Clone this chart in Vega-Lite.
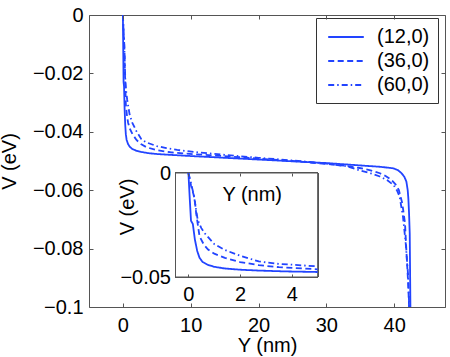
{
  "$schema": "https://vega.github.io/schema/vega-lite/v6.json",
  "width": 356,
  "height": 292,
  "autosize": {"type": "none"},
  "padding": {"left": 89, "top": 15, "right": 5, "bottom": 50},
  "datasets": {
    "curves": [
      {"s":"(12,0)","Y":0,"V":0},{"s":"(12,0)","Y":0.05,"V":-0.012},{"s":"(12,0)","Y":0.1,"V":-0.023},{"s":"(12,0)","Y":0.17,"V":-0.0245},{"s":"(12,0)","Y":0.25,"V":-0.032},{"s":"(12,0)","Y":0.34,"V":-0.0375},{"s":"(12,0)","Y":0.43,"V":-0.0408},{"s":"(12,0)","Y":0.55,"V":-0.0428},{"s":"(12,0)","Y":0.76,"V":-0.0442},{"s":"(12,0)","Y":1.0,"V":-0.0451},{"s":"(12,0)","Y":1.4,"V":-0.0459},{"s":"(12,0)","Y":2.0,"V":-0.0465},{"s":"(12,0)","Y":2.7,"V":-0.0469},{"s":"(12,0)","Y":3.7,"V":-0.0473},{"s":"(12,0)","Y":5,"V":-0.0476},{"s":"(12,0)","Y":7,"V":-0.0479},{"s":"(12,0)","Y":10,"V":-0.0483},{"s":"(12,0)","Y":15,"V":-0.0489},{"s":"(12,0)","Y":20,"V":-0.0495},{"s":"(12,0)","Y":25,"V":-0.0501},{"s":"(12,0)","Y":30,"V":-0.0507},{"s":"(12,0)","Y":34.9,"V":-0.0515},{"s":"(12,0)","Y":38,"V":-0.052},{"s":"(12,0)","Y":39.9,"V":-0.0525},{"s":"(12,0)","Y":40.6,"V":-0.0532},{"s":"(12,0)","Y":41.1,"V":-0.0542},{"s":"(12,0)","Y":41.5,"V":-0.0554},{"s":"(12,0)","Y":41.8,"V":-0.057},{"s":"(12,0)","Y":42.0,"V":-0.06},{"s":"(12,0)","Y":42.1,"V":-0.063},{"s":"(12,0)","Y":42.2,"V":-0.068},{"s":"(12,0)","Y":42.3,"V":-0.075},{"s":"(12,0)","Y":42.4,"V":-0.1},{"s":"(12,0)","Y":42.45,"V":-0.12},
      {"s":"(36,0)","Y":0,"V":0},{"s":"(36,0)","Y":0.1,"V":-0.006},{"s":"(36,0)","Y":0.2,"V":-0.0105},{"s":"(36,0)","Y":0.24,"V":-0.0125},{"s":"(36,0)","Y":0.3,"V":-0.0194},{"s":"(36,0)","Y":0.43,"V":-0.0305},{"s":"(36,0)","Y":0.6,"V":-0.0345},{"s":"(36,0)","Y":0.76,"V":-0.0368},{"s":"(36,0)","Y":1.0,"V":-0.0388},{"s":"(36,0)","Y":1.41,"V":-0.0408},{"s":"(36,0)","Y":2.0,"V":-0.0428},{"s":"(36,0)","Y":2.72,"V":-0.0443},{"s":"(36,0)","Y":3.5,"V":-0.0453},{"s":"(36,0)","Y":5,"V":-0.0463},{"s":"(36,0)","Y":7,"V":-0.047},{"s":"(36,0)","Y":9,"V":-0.0474},{"s":"(36,0)","Y":12,"V":-0.0479},{"s":"(36,0)","Y":16,"V":-0.0485},{"s":"(36,0)","Y":20,"V":-0.0492},{"s":"(36,0)","Y":25,"V":-0.05},{"s":"(36,0)","Y":30,"V":-0.051},{"s":"(36,0)","Y":33,"V":-0.0517},{"s":"(36,0)","Y":34.9,"V":-0.0524},{"s":"(36,0)","Y":36.5,"V":-0.0532},{"s":"(36,0)","Y":37.9,"V":-0.0542},{"s":"(36,0)","Y":38.8,"V":-0.0552},{"s":"(36,0)","Y":39.6,"V":-0.0565},{"s":"(36,0)","Y":40.2,"V":-0.058},{"s":"(36,0)","Y":40.7,"V":-0.06},{"s":"(36,0)","Y":41.2,"V":-0.0645},{"s":"(36,0)","Y":41.6,"V":-0.0713},{"s":"(36,0)","Y":41.8,"V":-0.0805},{"s":"(36,0)","Y":42.07,"V":-0.092},{"s":"(36,0)","Y":42.2,"V":-0.1},{"s":"(36,0)","Y":42.3,"V":-0.12},
      {"s":"(60,0)","Y":0,"V":0},{"s":"(60,0)","Y":0.1,"V":-0.005},{"s":"(60,0)","Y":0.2,"V":-0.01},{"s":"(60,0)","Y":0.3,"V":-0.018},{"s":"(60,0)","Y":0.36,"V":-0.0226},{"s":"(60,0)","Y":0.5,"V":-0.0265},{"s":"(60,0)","Y":0.63,"V":-0.029},{"s":"(60,0)","Y":1.0,"V":-0.0342},{"s":"(60,0)","Y":1.41,"V":-0.037},{"s":"(60,0)","Y":2.0,"V":-0.0398},{"s":"(60,0)","Y":2.72,"V":-0.0425},{"s":"(60,0)","Y":3.4,"V":-0.0436},{"s":"(60,0)","Y":5,"V":-0.0449},{"s":"(60,0)","Y":6.4,"V":-0.0456},{"s":"(60,0)","Y":8,"V":-0.0462},{"s":"(60,0)","Y":11.3,"V":-0.0471},{"s":"(60,0)","Y":15,"V":-0.0479},{"s":"(60,0)","Y":20,"V":-0.0489},{"s":"(60,0)","Y":25,"V":-0.0498},{"s":"(60,0)","Y":30,"V":-0.0509},{"s":"(60,0)","Y":33,"V":-0.0518},{"s":"(60,0)","Y":34.9,"V":-0.0532},{"s":"(60,0)","Y":36.5,"V":-0.0542},{"s":"(60,0)","Y":37.9,"V":-0.0553},{"s":"(60,0)","Y":39.0,"V":-0.0566},{"s":"(60,0)","Y":39.9,"V":-0.0582},{"s":"(60,0)","Y":40.4,"V":-0.06},{"s":"(60,0)","Y":40.8,"V":-0.0621},{"s":"(60,0)","Y":41.3,"V":-0.069},{"s":"(60,0)","Y":41.7,"V":-0.078},{"s":"(60,0)","Y":42.07,"V":-0.0895},{"s":"(60,0)","Y":42.2,"V":-0.0985},{"s":"(60,0)","Y":42.3,"V":-0.12}
    ]
  },
  "data": {"name": "curves"},
  "config": {
    "font": "Liberation Sans",
    "view": {"stroke": "#555555", "strokeWidth": 1},
    "axis": {
      "labelFont": "Liberation Sans",
      "labelFontSize": 20,
      "labelColor": "#000000",
      "titleFont": "Liberation Sans",
      "titleFontSize": 20,
      "titleFontWeight": "normal",
      "titleColor": "#000000",
      "tickColor": "#555555",
      "domain": false,
      "grid": false,
      "labelOverlap": false,
      "labelFlush": false
    }
  },
  "layer": [
    {
      "layer": [
        {
          "mark": {"type": "line", "clip": true, "strokeWidth": 1.8, "color": "#2244ff"},
          "encoding": {
            "x": {"field": "Y", "type": "quantitative", "scale": {"domain": [-5, 47.5], "nice": false, "zero": false},
              "axis": {"orient": "bottom", "values": [0, 10, 20, 30, 40], "tickSize": -4, "labelBaseline": "alphabetic", "labelPadding": 28, "title": "Y (nm)", "titleBaseline": "alphabetic", "titleY": 44}},
            "y": {"field": "V", "type": "quantitative", "scale": {"domain": [-0.1, 0], "nice": false, "zero": false},
              "axis": {"orient": "left", "values": [0, -0.02, -0.04, -0.06, -0.08, -0.1], "format": "~g", "tickSize": -4, "labelPadding": 10, "title": "V (eV)", "titleBaseline": "alphabetic", "titleX": -74}},
            "strokeDash": {"field": "s", "type": "nominal",
              "scale": {"domain": ["(12,0)", "(36,0)", "(60,0)"], "range": [[1, 0], [6, 3.5], [6, 3, 1.5, 3]]},
              "legend": {"title": null, "orient": "none", "legendX": 227, "legendY": 3, "fillColor": "#ffffff", "strokeColor": "#333333", "padding": 8, "rowPadding": 3, "symbolType": "M-1.78,0H1.78", "symbolSize": 400, "symbolStrokeColor": "#2244ff", "symbolStrokeWidth": 1.8, "symbolOffset": 11, "labelOffset": 20, "labelFontSize": 20, "labelFont": "Liberation Sans", "labelColor": "#000000"}}
          }
        },
        {
          "mark": {"type": "line", "opacity": 0},
          "encoding": {
            "x": {"field": "Y", "type": "quantitative", "axis": {"orient": "top", "values": [0, 10, 20, 30, 40], "tickSize": -4, "labels": false, "title": null, "zindex": 1}},
            "y": {"field": "V", "type": "quantitative", "axis": {"orient": "right", "values": [0, -0.02, -0.04, -0.06, -0.08, -0.1], "tickSize": -4, "labels": false, "title": null, "zindex": 1}},
            "detail": {"field": "s"}
          }
        }
      ],
      "resolve": {"axis": {"x": "independent", "y": "independent"}}
    },
    {
      "transform": [{"filter": "datum.Y <= 5"}],
      "layer": [
        {
          "mark": {"type": "rect", "fill": "#ffffff", "stroke": "#555555", "strokeWidth": 1},
          "encoding": {
            "x": {"datum": -0.5, "type": "quantitative", "axis": null},
            "x2": {"datum": 5},
            "y": {"datum": 0, "type": "quantitative"},
            "y2": {"datum": -0.05}
          }
        },
        {
          "mark": {"type": "line", "strokeWidth": 1.8, "color": "#2244ff"},
          "encoding": {
            "x": {"field": "Y", "type": "quantitative", "scale": {"domain": [-0.5, 5], "range": [86.5, 228.7], "nice": false, "zero": false},
              "axis": {"orient": "bottom", "offset": -30, "values": [0, 2, 4], "tickSize": -3, "labelBaseline": "alphabetic", "labelPadding": 26.5, "title": "Y (nm)", "titleX": 162.7, "titleY": -77, "titleAlign": "center", "titleBaseline": "alphabetic", "zindex": 1}},
            "y": {"field": "V", "type": "quantitative", "scale": {"domain": [-0.05, 0], "range": [262, 158], "nice": false, "zero": false},
              "axis": {"orient": "left", "offset": -86.5, "values": [-0.05, 0], "format": "~g", "tickSize": 0, "labelPadding": 5, "title": "V (eV)", "titleX": -42.5, "titleY": 191.5, "titleAlign": "center", "titleBaseline": "alphabetic", "zindex": 1}},
            "strokeDash": {"field": "s", "type": "nominal", "legend": null}
          }
        },
        {
          "mark": {"type": "line", "opacity": 0},
          "encoding": {
            "x": {"field": "Y", "type": "quantitative", "axis": {"orient": "top", "offset": -158, "values": [0, 2, 4], "tickSize": -3, "labels": false, "title": null, "zindex": 1}},
            "y": {"field": "V", "type": "quantitative"},
            "detail": {"field": "s"}
          }
        }
      ],
      "resolve": {"axis": {"x": "independent"}}
    }
  ],
  "resolve": {"scale": {"x": "independent", "y": "independent"}}
}
